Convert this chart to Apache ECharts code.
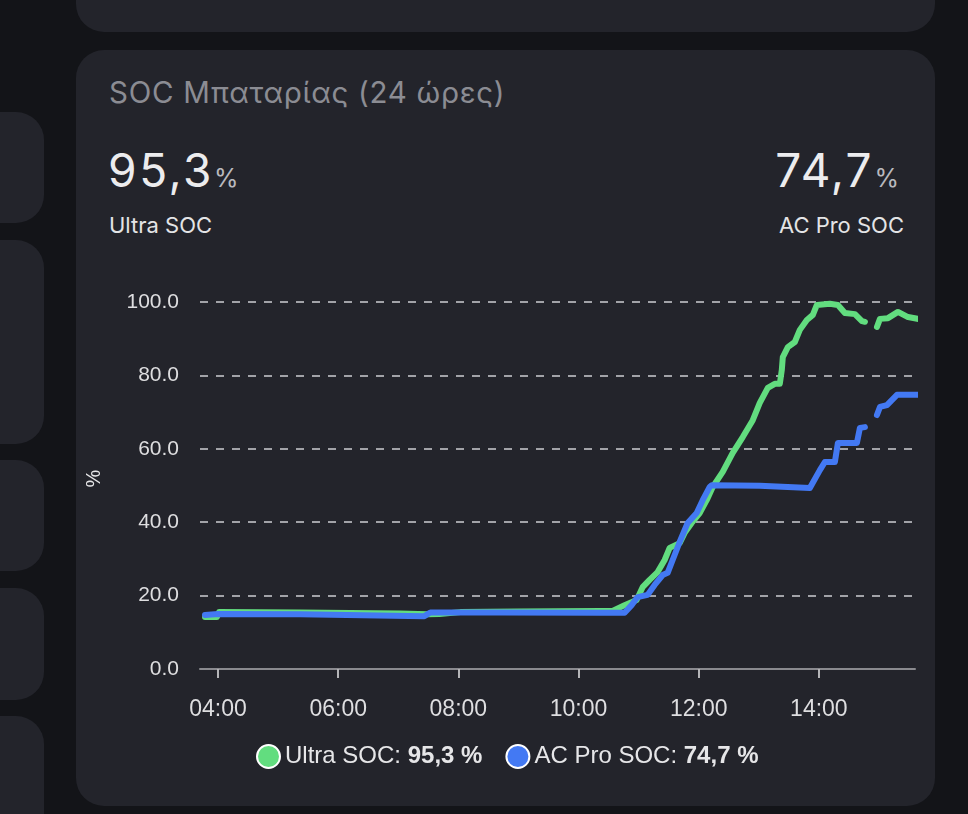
<!DOCTYPE html>
<html>
<head>
<meta charset="utf-8">
<script src="https://cdn.jsdelivr.net/npm/echarts@6/dist/echarts.min.js"></script>
<style>
  html, body { margin: 0; padding: 0; width: 968px; height: 814px; overflow: hidden; background: #131418; }
  .card { position: absolute; background: #23242b; }
  .txt { position: absolute; font-family: Inter, "Noto Sans", sans-serif; white-space: nowrap; line-height: 1; }
  #chart { position: absolute; left: 0; top: 0; width: 968px; height: 814px; }
</style>
</head>
<body>
<div class="card" style="left:76px;top:-40px;width:859px;height:72px;border-radius:28px;"></div>
<div class="card" style="left:76px;top:50px;width:859px;height:756px;border-radius:28px;"></div>
<div class="card" style="left:-40px;top:112px;width:84px;height:111px;border-radius:28px;"></div>
<div class="card" style="left:-40px;top:240px;width:84px;height:204px;border-radius:28px;"></div>
<div class="card" style="left:-40px;top:460px;width:84px;height:111px;border-radius:28px;"></div>
<div class="card" style="left:-40px;top:588px;width:84px;height:112px;border-radius:28px;"></div>
<div class="card" style="left:-40px;top:716px;width:84px;height:140px;border-radius:28px;"></div>

<div class="txt" style="left:109px;top:78px;font-size:29.5px;letter-spacing:0.7px;color:#8b8c93;">SOC Μπαταρίας (24 ώρες)</div>
<div class="txt" style="left:108px;top:147px;font-size:46px;letter-spacing:2.6px;color:#ececee;">95,3<span style="font-size:25px;letter-spacing:0;color:#b9b9be;margin-left:0px;">%</span></div>
<div class="txt" style="left:109px;top:214px;font-size:22px;color:#e4e4e6;">Ultra SOC</div>
<div class="txt" style="right:69px;top:147px;font-size:46px;letter-spacing:2px;color:#ececee;text-align:right;">74,7<span style="font-size:25px;letter-spacing:0;color:#b9b9be;margin-left:1px;">%</span></div>
<div class="txt" style="right:64px;top:214px;font-size:22px;color:#e4e4e6;text-align:right;">AC Pro SOC</div>

<div id="chart"></div>
<script>
// ---- data ----
var seriesNames = ['Ultra SOC', 'AC Pro SOC'];
var currentValues = ['95,3', '74,7'];
var xTickHours = [4, 6, 8, 10, 12, 14];
var yTicks = [0, 20, 40, 60, 80, 100];

var ultraTimes = ['03:47','03:59','04:01','05:22','07:02','07:29','07:41','08:02','09:01','10:22','10:34','10:46','10:58','11:04','11:11','11:19','11:26','11:31','11:41','11:46','11:53','12:01','12:08','12:14','12:24','12:34','12:44','12:54','13:01','13:09','13:16','13:21','13:23','13:24','13:29','13:36','13:41','13:48','13:54','13:58','14:11','14:19','14:26','14:36','14:43','14:46','14:52','14:58','15:01','15:09','15:19','15:29','15:41'];
var ultraSoc = [14.2,14.2,15.5,15.4,15.1,14.9,15.0,15.5,15.7,15.8,15.8,17.4,18.8,22.3,24.3,26.4,29.7,33.0,34.3,37.1,39.8,42.5,46.0,49.6,53.7,58.9,63.2,67.8,72.5,76.6,77.7,77.7,81.5,85.0,87.7,89.1,92.4,95.1,96.5,99.2,99.5,99.2,97.0,96.7,94.8,94.6,null,93.2,95.4,95.6,97.3,95.9,95.3];

var acProTimes = ['03:47','04:00','05:22','07:26','07:32','08:41','10:22','10:46','10:53','10:59','11:09','11:16','11:24','11:29','11:34','11:41','11:49','11:58','12:04','12:11','12:13','13:01','13:51','14:01','14:06','14:16','14:19','14:38','14:41','14:46','14:52','14:58','15:01','15:08','15:18','15:41'];
var acProSoc = [14.7,15.0,14.9,14.4,15.4,15.4,15.3,15.3,17.4,19.6,20.2,22.9,25.6,26.2,29.7,34.6,39.8,42.5,46.0,49.6,50.1,49.9,49.3,54.2,56.4,56.4,61.6,61.6,65.7,65.9,null,69.2,71.4,71.9,74.7,74.7];

var seriesColors = ['#62dd7f', '#4379f3'];

function toHours(t) { var p = t.split(':'); return +p[0] + (+p[1]) / 60; }
function pairs(times, vals) { return times.map(function (t, i) { return [toHours(t), vals[i]]; }); }
function pad(n) { return (n < 10 ? '0' : '') + n; }

var chart = echarts.init(document.getElementById('chart'), null, { renderer: 'canvas' });
var labelFont = '"Liberation Sans", Arial, sans-serif';
chart.setOption({
  backgroundColor: 'transparent',
  animation: false,
  textStyle: { fontFamily: labelFont },
  grid: { left: 200, top: 302, width: 715, height: 367, containLabel: false },
  xAxis: {
    type: 'value', min: 3.7, max: 15.6,
    axisLine: { show: true, lineStyle: { color: '#8a8a8f', width: 2 } },
    axisTick: { show: true, customValues: xTickHours, length: 9, lineStyle: { color: '#b5b5b8', width: 2 } },
    axisLabel: { customValues: xTickHours, color: '#dedee0', fontSize: 23, margin: 29, fontFamily: labelFont,
      formatter: function (v) { return pad(Math.round(v)) + ':00'; } },
    splitLine: { show: false }
  },
  yAxis: {
    type: 'value', min: 0, max: 100, interval: 20,
    name: '%', nameLocation: 'middle', nameGap: 96, nameRotate: 90,
    nameTextStyle: { color: '#e6e6e8', fontSize: 20, fontFamily: labelFont, padding: [0, 0, 0, 14] },
    axisLine: { show: false }, axisTick: { show: false },
    axisLabel: { color: '#dedee0', fontSize: 21, margin: 21, fontFamily: labelFont,
      formatter: function (v) { return v.toFixed(1); } },
    splitLine: { show: true, lineStyle: { type: [8, 8], color: 'rgba(235,235,238,0.85)', width: 1.5 } }
  },
  legend: {
    show: true, top: 739, left: 251, icon: 'circle', itemWidth: 23, itemHeight: 23, itemGap: 23,
    itemStyle: { borderColor: '#ffffff', borderWidth: 2 },
    textStyle: { color: '#e6e6e8', fontSize: 24, fontFamily: labelFont,
      rich: { n: { fontSize: 24, color: '#e6e6e8', fontFamily: labelFont },
              b: { fontSize: 24, color: '#e6e6e8', fontWeight: 'bold', fontFamily: labelFont } } },
    formatter: function (name) {
      var i = seriesNames.indexOf(name);
      return '{n|' + name + ': }{b|' + currentValues[i] + ' %}';
    }
  },
  series: [
    { name: seriesNames[0], type: 'line', data: pairs(ultraTimes, ultraSoc), showSymbol: false, connectNulls: false, clip: false,
      color: seriesColors[0], lineStyle: { width: 6, color: seriesColors[0], join: 'round', cap: 'round' }, z: 2 },
    { name: seriesNames[1], type: 'line', data: pairs(acProTimes, acProSoc), showSymbol: false, connectNulls: false, clip: false,
      color: seriesColors[1], lineStyle: { width: 6, color: seriesColors[1], join: 'round', cap: 'round' }, z: 3 }
  ]
});
</script>
</body>
</html>
